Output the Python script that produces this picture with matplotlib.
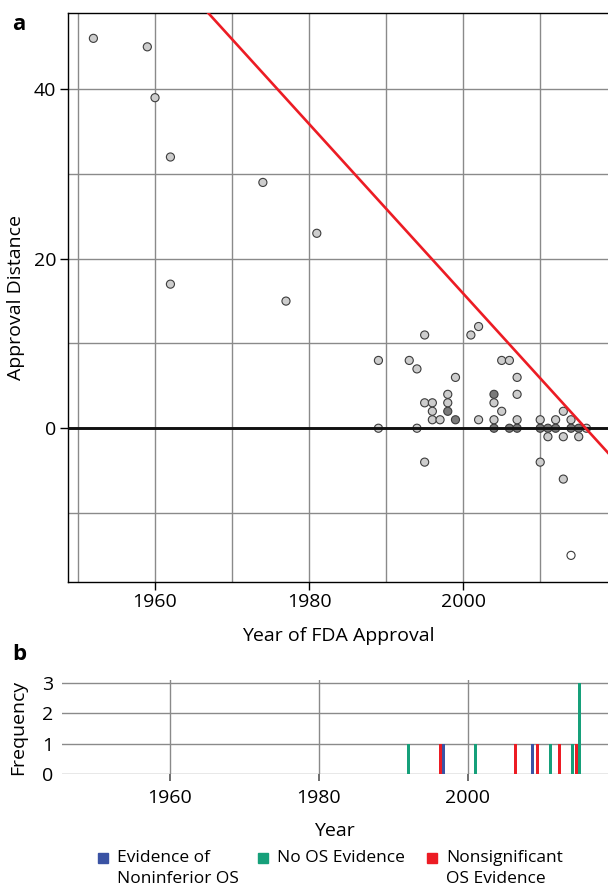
import numpy as np
import matplotlib
matplotlib.use('Agg')
import matplotlib.pyplot as plt
from matplotlib.patches import Rectangle

plt.rcParams['font.family'] = ['Open Sans', 'DejaVu Sans']

# panel a: approval year vs approval distance (shade: 0 open, 1 single, 2 overlapping)
year = [1952, 1959, 1960, 1962, 1962, 1974, 1977, 1981,
        1989, 1989, 1993, 1994, 1994, 1995, 1995, 1995, 1996, 1996, 1996, 1997,
        1998, 1998, 1998, 1999, 1999, 2001, 2002, 2002, 2004, 2004, 2004, 2004,
        2005, 2005, 2006, 2006, 2007, 2007, 2007, 2007, 2010, 2010, 2010,
        2011, 2011, 2012, 2012, 2013, 2013, 2013, 2014, 2014, 2014,
        2015, 2015, 2016]
distance = [46, 45, 39, 32, 17, 29, 15, 23,
            8, 0, 8, 7, 0, 11, -4, 3, 3, 2, 1, 1,
            4, 3, 2, 6, 1, 11, 12, 1, 4, 3, 1, 0,
            2, 8, 8, 0, 6, 4, 1, 0, 1, 0, -4,
            0, -1, 1, 0, 2, -1, -6, 1, 0, -15,
            0, -1, 0]
shade = [1, 1, 1, 1, 1, 1, 1, 1,
         1, 1, 1, 1, 1, 1, 1, 1, 1, 1, 1, 1,
         1, 1, 2, 1, 2, 1, 1, 1, 2, 1, 1, 2,
         1, 1, 1, 2, 1, 1, 1, 2, 1, 2, 1,
         2, 1, 1, 2, 1, 1, 1, 1, 2, 0,
         2, 1, 1]
trend_slope = -1.0
trend_intercept = 2015.9

# panel b: frequency by year and OS evidence type
cat_labels = ['Evidence of\nNoninferior OS', 'No OS Evidence', 'Nonsignificant\nOS Evidence']
blue_years = [1996.7, 2008.7]
blue_freq = [1, 1]
green_years = [1992.0, 2001.0, 2011.1, 2014.05, 2015.0]
green_freq = [1, 1, 1, 1, 3]
red_years = [1996.3, 2006.4, 2009.3, 2012.3, 2014.6]
red_freq = [1, 1, 1, 1, 1]

blue = '#3A53A4'
green = '#16A07A'
red = '#EC1C24'
grid_col = '#8a8a8a'
fs = 14

fig = plt.figure(figsize=(6.08, 8.91), dpi=100)

# ---- panel a
ax = fig.add_axes([0.1118, 0.3472, 0.8882, 0.6383])
ax.set_xlim(1948.7, 2018.8)
ax.set_ylim(-18.1, 49.0)
ax.set_xticks([1960, 1980, 2000])
ax.set_xticks([1950, 1970, 1990, 2010], minor=True)
ax.set_yticks([0, 20, 40])
ax.set_yticks([-10, 10, 30], minor=True)
ax.grid(True, which='both', color=grid_col, lw=1.0)
ax.set_axisbelow(True)
ax.tick_params(which='major', direction='out', length=5.5, width=1.0, labelsize=fs, pad=3)
ax.tick_params(which='minor', length=0)
ax.spines['right'].set_visible(False)
for s in ['left', 'top', 'bottom']:
    ax.spines[s].set_linewidth(1.0)

ax.axhline(0, color='#111111', lw=2.1, zorder=4)
shade_cols = ['white', '#cdcdcd', '#7a7a7a']
face = [shade_cols[s] for s in shade]
ax.scatter(year, distance, s=34, c=face, edgecolors='#3c3c3c', linewidths=0.8, zorder=3)
xs = np.array(ax.get_xlim())
ax.plot(xs, trend_intercept + trend_slope * xs, color=red, lw=1.9, zorder=5)

ax.set_xlabel('Year of FDA Approval', fontsize=fs, labelpad=11)
ax.set_ylabel('Approval Distance', fontsize=fs, labelpad=6)
fig.text(0.02, 0.972, 'a', fontsize=16, fontweight='bold', va='center')

# ---- panel b
bx = fig.add_axes([0.1015, 0.1317, 0.8985, 0.1048])
bx.set_xlim(1945.5, 2018.8)
bx.set_ylim(0, 3.1)
bw = 0.42
bx.bar(blue_years, blue_freq, width=bw, color=blue, zorder=3)
bx.bar(green_years, green_freq, width=bw, color=green, zorder=3)
bx.bar(red_years, red_freq, width=bw, color=red, zorder=3)
bx.set_xticks([1960, 1980, 2000])
bx.set_yticks([0, 1, 2, 3])
bx.grid(True, color=grid_col, lw=1.0)
bx.set_axisbelow(True)
for s in bx.spines.values():
    s.set_visible(False)
bx.tick_params(axis='x', direction='out', length=5, width=1.2, color='#555555', labelsize=fs, pad=6)
bx.tick_params(axis='y', length=0, labelsize=fs, pad=6)
bx.set_xlabel('Year', fontsize=fs, labelpad=11)
bx.set_ylabel('Frequency', fontsize=fs, labelpad=11)
fig.text(0.02, 0.265, 'b', fontsize=16, fontweight='bold', va='center')

# ---- legend
leg_x = [98, 258, 427]
for lx, lab, col in zip(leg_x, cat_labels, [blue, green, red]):
    fig.patches.append(Rectangle((lx / 608, 1 - 863 / 891), 10 / 608, 10 / 891,
                                 transform=fig.transFigure, color=col))
    fig.text((lx + 19) / 608, 1 - 850 / 891, lab, fontsize=12.5, va='top', ha='left',
             linespacing=1.45)

fig.savefig('out.png', dpi=100)
